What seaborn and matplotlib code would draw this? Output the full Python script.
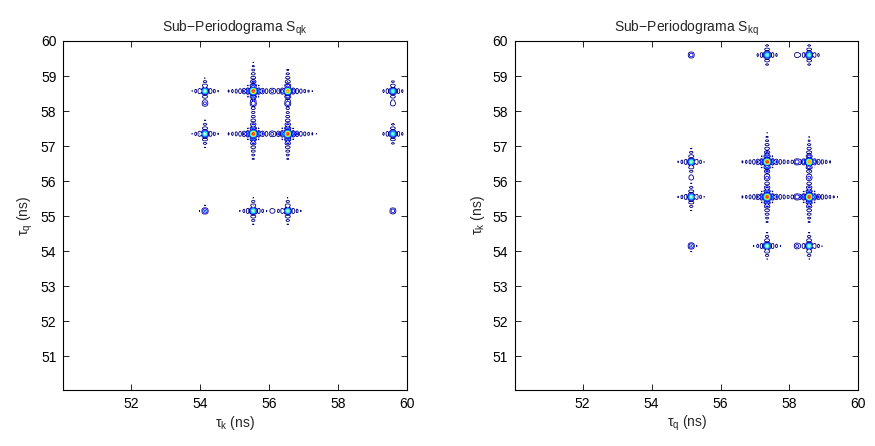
import numpy as np
import matplotlib
matplotlib.use("Agg")
import matplotlib.pyplot as plt
import seaborn as sns

# Delay pairs (ns) where the sub-periodogram S_qk has its peaks
tau_k_peaks = [54.15, 55.55, 56.10, 56.55, 59.60]
tau_q_peaks = [58.57, 58.22, 57.35, 55.15]

# Relative peak amplitudes: rows follow tau_q_peaks, columns tau_k_peaks
peak_amp = [
    [0.60, 1.00, 0.25, 0.90, 0.55],
    [0.25, 0.30, 0.00, 0.30, 0.20],
    [0.60, 1.00, 0.25, 1.00, 0.55],
    [0.32, 0.60, 0.18, 0.60, 0.28],
]

x_ticks = [52, 54, 56, 58, 60]
y_ticks = [51, 52, 53, 54, 55, 56, 57, 58, 59, 60]
lim = (50.04, 60.0)
lobe_width = 0.11  # ns, first zero of each sinc lobe
lobe_power = 0.7

sns.set_theme(style="ticks")
plt.rcParams["font.family"] = ["Liberation Sans", "DejaVu Sans"]
plt.rcParams["mathtext.fontset"] = "custom"
plt.rcParams["mathtext.rm"] = "Liberation Sans"
plt.rcParams["mathtext.it"] = "Liberation Sans"

grid = np.arange(50.0, 60.0001, 0.03)
GX, GY = np.meshgrid(grid, grid)

# Periodogram: separable sinc response of each peak (strongest one wins)
S_qk = np.zeros_like(GX)
for iy, yq in enumerate(tau_q_peaks):
    for ix, xk in enumerate(tau_k_peaks):
        a = peak_amp[iy][ix]
        if a > 0:
            resp = a * np.abs(np.sinc((GX - xk) / lobe_width) *
                              np.sinc((GY - yq) / lobe_width)) ** lobe_power
            S_qk = np.maximum(S_qk, resp)
S_kq = S_qk.T

levels = np.linspace(0.105, 1.0, 10)

fig = plt.figure(figsize=(8.75, 4.46), dpi=100)
ax1 = fig.add_axes([0.0723, 0.1256, 0.3925, 0.7825])
ax2 = fig.add_axes([0.5886, 0.1256, 0.3925, 0.7825])

panels = [
    (ax1, S_qk, "Sub\u2212Periodograma S$_\\mathrm{qk}$",
     "\u03c4$_\\mathrm{k}$ (ns)", "\u03c4$_\\mathrm{q}$ (ns)"),
    (ax2, S_kq, "Sub\u2212Periodograma S$_\\mathrm{kq}$",
     "\u03c4$_\\mathrm{q}$ (ns)", "\u03c4$_\\mathrm{k}$ (ns)"),
]

for ax, Z, title, xl, yl in panels:
    ax.contour(GX, GY, Z, levels=levels, cmap="jet", linewidths=0.6)
    ax.set_xlim(*lim)
    ax.set_ylim(*lim)
    ax.set_xticks(x_ticks)
    ax.set_yticks(y_ticks)
    ax.tick_params(direction="in", length=4, width=0.6, top=True, right=True,
                   labelsize=10, colors="black", pad=5)
    for sp in ax.spines.values():
        sp.set_visible(True)
        sp.set_color("black")
        sp.set_linewidth(0.8)
    ax.set_title(title, fontsize=10, pad=7)
    ax.set_xlabel(xl, fontsize=10, labelpad=2)
    ax.set_ylabel(yl, fontsize=10, labelpad=4)
    ax.set_facecolor("white")

fig.savefig("out.png", dpi=100, facecolor="white")
